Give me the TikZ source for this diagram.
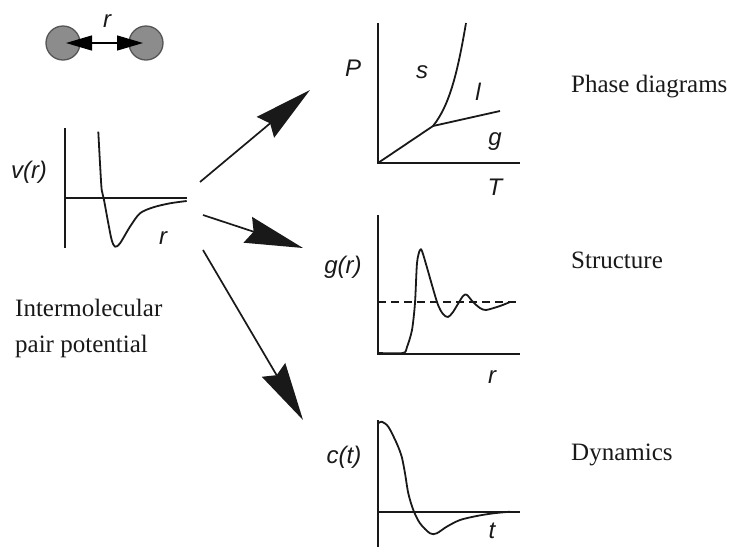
\documentclass[tikz,border=0pt]{standalone}
\usepackage{fontspec}
\setmainfont{Liberation Serif}
\newfontfamily\labfont{Liberation Sans}
\usetikzlibrary{arrows.meta}
\definecolor{atomfill}{RGB}{140,140,140}
\definecolor{atomedge}{RGB}{85,85,85}
\definecolor{ink}{RGB}{25,25,25}
\begin{document}
\begin{tikzpicture}[x=1pt,y=-1pt,
  ax/.style={line width=1.8pt, draw=ink},
  crv/.style={line width=1.8pt, draw=ink, line join=round},
  lab/.style={font=\labfont\itshape\fontsize{24}{28}\selectfont, inner sep=0pt, text=ink},
  captext/.style={font=\fontsize{25}{36}\selectfont, inner sep=0pt, anchor=base west, text=ink},
  bigarrow/.style={line width=1.7pt, draw=ink, -{Stealth[length=58pt,width=27pt,inset=6pt]}},
  atom/.style={circle, minimum size=34pt, inner sep=0pt, fill=atomfill, draw=atomedge, line width=1.3pt}]
\useasboundingbox (0,0) rectangle (736,547);

% atoms
\node[atom] (a1) at (63,43) {};
\node[atom] (a2) at (146,43) {};
\draw[line width=1.3pt, draw=black, {Triangle[length=26pt,width=15pt]}-{Triangle[length=26pt,width=15pt]}, shorten <=3pt, shorten >=3pt] (a1.center) -- (a2.center);
\node[lab] (rtop) at (107,21) {r};

% pair potential
\draw[ax] (65,128) -- (65,248);
\draw[ax] (65,198) -- (187,198);
\draw[crv] plot[smooth, tension=0.5] coordinates {(98.3,131.7) (100,163.3) (101.7,190) (104,200) (108.3,223.3) (111.7,240) (115,246.7) (120,243.3) (130,226.7) (140,213.3) (153.3,207.3) (170,203.3) (186.7,201)};
\node[lab] (vr) at (29,172) {v(r)};
\node[lab] (rv) at (163,238) {r};
\node[captext] (im1) at (15,316) {Intermolecular};
\node[captext] (im2) at (15,352) {pair potential};

% phase diagram
\coordinate (po) at (378,163);
\coordinate (tp) at (433,126);
\draw[ax] (378,23) -- (po) -- (520,163);
\draw[crv] (po) -- (tp) -- (500,111);
\draw[crv] (tp) .. controls (450,105) and (458,70) .. (466,23);
\node[lab] (P) at (353,68) {P};
\node[lab] (s) at (422,72) {s};
\node[lab] (l) at (478,92) {l};
\node[lab] (g) at (495,142) {g};
\node[lab] (T) at (495,187) {T};
\node[captext] (c1) at (571,92) {Phase diagrams};

% structure
\draw[ax] (378,215) -- (378,354) -- (520,354);
\draw[line width=1.5pt, draw=ink, dash pattern=on 8pt off 5pt] (378,302) -- (520,302);
\draw[crv] plot[smooth, tension=0.45] coordinates {(378,353) (403,353) (407,347) (412,330) (415,303) (417,263) (420,250) (423,254) (437,302) (443,314) (448,317) (453,312) (463,296) (467,295) (473,302) (480,308) (486,310) (500,306) (510,302)};
\node[lab] (gr) at (343,267) {g(r)};
\node[lab] (rg) at (492,377) {r};
\node[captext] (c2) at (571,268) {Structure};

% dynamics
\draw[ax] (378,420) -- (378,547);
\draw[ax] (378,512) -- (520,512);
\draw[crv] plot[smooth, tension=0.5] coordinates {(378.3,423.3) (381.7,421.7) (388.3,426.7) (396.7,443.3) (401.7,456.7) (405,473.3) (408.3,493.3) (413.3,510) (420,523.3) (430,533.3) (436.7,533.3) (446.7,526.7) (460,520) (476.7,516) (493.3,513.3) (510,511.7)};
\node[lab] (ct) at (344,457) {c(t)};
\node[lab] (tt) at (492,531) {t};
\node[captext] (c3) at (571,460) {Dynamics};

% arrows
\coordinate (s1) at (200,182); \coordinate (e1) at (310,90);
\coordinate (s2) at (203,215); \coordinate (e2) at (303,248);
\coordinate (s3) at (203,250); \coordinate (e3) at (303,420);
\draw[bigarrow] (s1) -- (e1);
\draw[bigarrow] (s2) -- (e2);
\draw[bigarrow] (s3) -- (e3);
\end{tikzpicture}
\end{document}
